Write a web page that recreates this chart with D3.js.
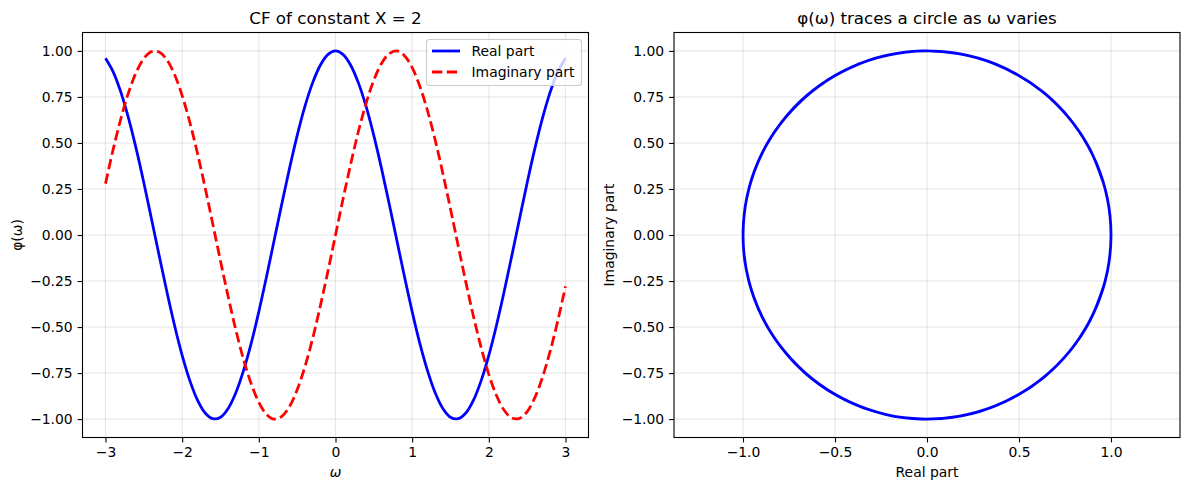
<!DOCTYPE html>
<html><head><meta charset="utf-8">
<script src="https://cdn.jsdelivr.net/npm/d3@7"></script>
<style>body{margin:0;background:#fff}svg{display:block}text{font-family:"DejaVu Sans",sans-serif;fill:#000}</style>
</head><body><svg id="c" width="1189" height="490"></svg>
<script>
// omega from -3 to 3, step 0.1
const omega = [-3.0,-2.9,-2.8,-2.7,-2.6,-2.5,-2.4,-2.3,-2.2,-2.1,-2.0,-1.9,-1.8,-1.7,-1.6,-1.5,-1.4,-1.3,-1.2,-1.1,-1.0,-0.9,-0.8,-0.7,-0.6,-0.5,-0.4,-0.3,-0.2,-0.1,0.0,0.1,0.2,0.3,0.4,0.5,0.6,0.7,0.8,0.9,1.0,1.1,1.2,1.3,1.4,1.5,1.6,1.7,1.8,1.9,2.0,2.1,2.2,2.3,2.4,2.5,2.6,2.7,2.8,2.9,3.0];
const realPart = [0.960,0.886,0.776,0.635,0.469,0.284,0.087,-0.112,-0.307,-0.490,-0.654,-0.791,-0.897,-0.967,-0.998,-0.990,-0.942,-0.857,-0.737,-0.589,-0.416,-0.227,-0.029,0.170,0.362,0.540,0.697,0.825,0.921,0.980,1.000,0.980,0.921,0.825,0.697,0.540,0.362,0.170,-0.029,-0.227,-0.416,-0.589,-0.737,-0.857,-0.942,-0.990,-0.998,-0.967,-0.897,-0.791,-0.654,-0.490,-0.307,-0.112,0.087,0.284,0.469,0.635,0.776,0.886,0.960];
const imagPart = [0.279,0.465,0.631,0.773,0.883,0.959,0.996,0.994,0.952,0.872,0.757,0.612,0.443,0.256,0.058,-0.141,-0.335,-0.516,-0.675,-0.808,-0.909,-0.974,-1.000,-0.985,-0.932,-0.841,-0.717,-0.565,-0.389,-0.199,0.000,0.199,0.389,0.565,0.717,0.841,0.932,0.985,1.000,0.974,0.909,0.808,0.675,0.516,0.335,0.141,-0.058,-0.256,-0.443,-0.612,-0.757,-0.872,-0.952,-0.994,-0.996,-0.959,-0.883,-0.773,-0.631,-0.465,-0.279];
const leftXTicks = [-3,-2,-1,0,1,2,3];
const yTicks = [-1.0,-0.75,-0.5,-0.25,0,0.25,0.5,0.75,1.0];
const rightXTicks = [-1.0,-0.5,0,0.5,1.0];
const titles = ["CF of constant X = 2", "φ(ω) traces a circle as ω varies"];
const seriesNames = ["Real part", "Imaginary part"];

const svg = d3.select("#c");
const fs = 13.9;
const minus = s => s.replace(/-/g, "\u2212");

function panel(x0, x1, y0, y1, xDom, xTicks, xFmt) {
  const g = svg.append("g");
  const x = d3.scaleLinear().domain(xDom).range([x0, x1]);
  const y = d3.scaleLinear().domain([-1.1, 1.1]).range([y1, y0]);
  g.selectAll(".gx").data(xTicks).enter().append("line")
    .attr("x1", d => x(d)).attr("x2", d => x(d)).attr("y1", y0).attr("y2", y1)
    .attr("stroke", "#b0b0b0").attr("stroke-opacity", 0.3).attr("stroke-width", 1.1);
  g.selectAll(".gy").data(yTicks).enter().append("line")
    .attr("y1", d => y(d)).attr("y2", d => y(d)).attr("x1", x0).attr("x2", x1)
    .attr("stroke", "#b0b0b0").attr("stroke-opacity", 0.3).attr("stroke-width", 1.1);
  const xa = d3.axisBottom(x).tickValues(xTicks).tickFormat(d => minus(xFmt(d))).tickSizeInner(4.9).tickSizeOuter(0).tickPadding(4.9);
  const ya = d3.axisLeft(y).tickValues(yTicks).tickFormat(d => minus(d3.format(".2f")(d))).tickSizeInner(4.9).tickSizeOuter(0).tickPadding(4.9);
  const gx = g.append("g").attr("transform", `translate(0,${y1})`).call(xa);
  const gy = g.append("g").attr("transform", `translate(${x0},0)`).call(ya);
  [gx, gy].forEach(a => {
    a.select(".domain").remove();
    a.selectAll("line").attr("stroke", "#000").attr("stroke-width", 1.1);
    a.selectAll("text").attr("font-size", fs).attr("font-family", "DejaVu Sans").attr("fill", "#000");
  });
  return {g, x, y};
}
function frame(p, x0, x1, y0, y1) {
  p.g.append("rect").attr("x", x0).attr("y", y0).attr("width", x1 - x0).attr("height", y1 - y0)
    .attr("fill", "none").attr("stroke", "#000").attr("stroke-width", 1.1);
}

const T = 32.5, B = 437.5;
const L0 = 82.5, L1 = 588.5, R0 = 674, R1 = 1180;

// left
const pL = panel(L0, L1, T, B, [-3.3, 3.3], leftXTicks, d => d3.format("d")(d));
svg.append("clipPath").attr("id", "clipL").append("rect").attr("x", L0).attr("y", T).attr("width", L1 - L0).attr("height", B - T);
const lineW = d3.line().x((d, i) => pL.x(omega[i])).y(d => pL.y(d)).curve(d3.curveCatmullRom);
pL.g.append("path").datum(realPart).attr("d", lineW).attr("fill", "none").attr("stroke", "#0000ff").attr("stroke-width", 2.78).attr("clip-path", "url(#clipL)");
pL.g.append("path").datum(imagPart).attr("d", lineW).attr("fill", "none").attr("stroke", "#ff0000").attr("stroke-width", 2.78).attr("stroke-dasharray", "10.3,4.45").attr("clip-path", "url(#clipL)");
frame(pL, L0, L1, T, B);
svg.append("text").attr("x", (L0 + L1) / 2).attr("y", 24).attr("text-anchor", "middle").attr("font-size", 16.7).text(titles[0]);
svg.append("text").attr("x", (L0 + L1) / 2).attr("y", 477).attr("text-anchor", "middle").attr("font-size", fs).attr("font-style", "italic").attr("font-family", "DejaVu Serif").text("ω");
svg.append("text").attr("transform", `translate(22,${(T + B) / 2}) rotate(-90)`).attr("text-anchor", "middle").attr("font-size", fs).text("φ(ω)");

// legend
const lg = svg.append("g");
const lx = 426.5, ly = 39.5, lw = 155, lh = 46;
lg.append("rect").attr("x", lx).attr("y", ly).attr("width", lw).attr("height", lh).attr("rx", 3)
  .attr("fill", "#fff").attr("fill-opacity", 0.8).attr("stroke", "#cccccc").attr("stroke-width", 1.1);
const colors = ["#0000ff", "#ff0000"], dashes = [null, "10.3,4.45"];
seriesNames.forEach((n, i) => {
  const yy = ly + 11.5 + i * 21;
  lg.append("line").attr("x1", lx + 5.5).attr("x2", lx + 33.5).attr("y1", yy).attr("y2", yy)
    .attr("stroke", colors[i]).attr("stroke-width", 2.78).attr("stroke-dasharray", dashes[i]);
  lg.append("text").attr("x", lx + 45).attr("y", yy + 5).attr("font-size", fs).text(n);
});

// right
const pR = panel(R0, R1, T, B, [-1.375, 1.375], rightXTicks, d => d3.format(".1f")(d));
const circle = d3.line().x((d, i) => pR.x(realPart[i])).y((d, i) => pR.y(imagPart[i])).curve(d3.curveCatmullRom);
pR.g.append("path").datum(realPart).attr("d", circle).attr("fill", "none").attr("stroke", "#0000ff").attr("stroke-width", 2.78).attr("stroke-linejoin", "round");
frame(pR, R0, R1, T, B);
svg.append("text").attr("x", (R0 + R1) / 2).attr("y", 24).attr("text-anchor", "middle").attr("font-size", 16.7).text(titles[1]);
svg.append("text").attr("x", (R0 + R1) / 2).attr("y", 477).attr("text-anchor", "middle").attr("font-size", fs).text("Real part");
svg.append("text").attr("transform", `translate(614,${(T + B) / 2}) rotate(-90)`).attr("text-anchor", "middle").attr("font-size", fs).text("Imaginary part");
</script></body></html>
